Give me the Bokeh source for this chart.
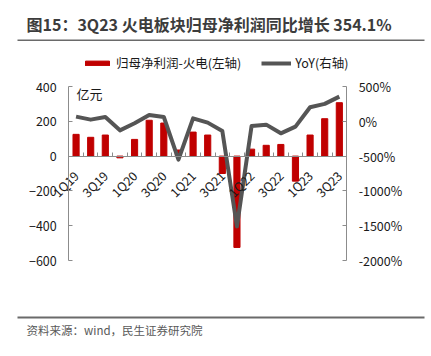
from math import pi
from bokeh.plotting import figure
from bokeh.models import (Range1d, LinearAxis, FixedTicker, PrintfTickFormatter,
                          Legend, LegendItem, Label, Title, ColumnDataSource)
from bokeh.layouts import column
from bokeh.embed import file_html
from bokeh.resources import INLINE

quarters = ["1Q19", "2Q19", "3Q19", "4Q19", "1Q20", "2Q20", "3Q20", "4Q20",
            "1Q21", "2Q21", "3Q21", "4Q21", "1Q22", "2Q22", "3Q22", "4Q22",
            "1Q23", "2Q23", "3Q23"]
profit = [125, 108, 121, -10, 96, 206, 190, 35,
          138, 121, -100, -525, 40, 62, 67, -144,
          121, 215, 307]
yoy = [67, 24, 62, -130, -29, 91, 62, -550,
       43, -19, -139, -1510, -67, -48, -173, -77,
       202, 250, 354]
left_ticks = [-600, -400, -200, 0, 200, 400]
right_ticks = [-2000, -1500, -1000, -500, 0, 500]
title_text = "图15：3Q23 火电板块归母净利润同比增长 354.1%"
source_text = "资料来源：wind，民生证券研究院"

FONT = "Noto Sans CJK SC"
AXIS_C = "#8c8c8c"
TXT_C = "#1a1a1a"
RULE_C = "#6a6a6a"
W = 431

# ---------- top strip: title + rule (the rule is the strip's frame) ----------
top = figure(width=W, height=41, output_backend="svg", toolbar_location=None,
             x_axis_type=None, y_axis_type=None,
             x_range=Range1d(0, 1), y_range=Range1d(0, 1),
             min_border_left=17, min_border_right=7, min_border_top=39,
             min_border_bottom=0, background_fill_color=RULE_C,
             outline_line_color=None)
top.grid.visible = False
top.title.text = title_text
top.title.align = "left"
top.title.offset = 9
top.title.standoff = 8
top.title.text_font = FONT
top.title.text_font_size = "16px"
top.title.text_font_style = "bold"
top.title.text_color = "#3c3c3c"

# ---------- main chart: axes placed at fixed spots inside the frame ----------
H = 274
FL = 18                            # observed left inset of the frame
FW = W - FL                        # frame width
plot_l, plot_r = 70 - FL, 352 - FL   # frame x of first / last category edge
plot_t, plot_b = 45, 219             # frame y (from top) of top / bottom tick
n = len(quarters)
left_lo, left_hi = -600, 400
right_lo, right_hi = -2000, 500

per_x = n / (plot_r - plot_l)
x_start = -0.5 - plot_l * per_x
x_end = n - 0.5 + (FW - plot_r) * per_x
per_l = (left_hi - left_lo) / (plot_b - plot_t)
yl_start = left_lo - (H - plot_b) * per_l
yl_end = left_hi + plot_t * per_l
per_r = (right_hi - right_lo) / (plot_b - plot_t)
yr_start = right_lo - (H - plot_b) * per_r
yr_end = right_hi + plot_t * per_r

idx = list(range(n))
src = ColumnDataSource(dict(x=idx, profit=profit, yoy=yoy))

p = figure(width=W, height=H, output_backend="svg", toolbar_location=None,
           x_range=Range1d(x_start, x_end), y_range=Range1d(yl_start, yl_end),
           min_border_left=0, min_border_right=0, min_border_top=0,
           min_border_bottom=0)
p.outline_line_color = None
p.xgrid.grid_line_color = None
p.ygrid.grid_line_color = None
p.extra_y_ranges = {"right": Range1d(yr_start, yr_end)}

bars = p.vbar(x="x", top="profit", width=0.42, source=src, color="#c00000")
line = p.line(x="x", y="yoy", source=src, y_range_name="right",
              line_color="#555555", line_width=4, line_join="round")

xa = p.xaxis[0]
xa.fixed_location = 0
xa.bounds = (-0.5, n - 0.5)
xa.ticker = FixedTicker(ticks=idx[::2], minor_ticks=[i - 0.5 for i in idx] + [n - 0.5])
xa.major_label_overrides = {i: quarters[i] for i in idx[::2]}
xa.major_label_orientation = pi / 4
xa.major_tick_line_color = None
xa.minor_tick_in = 4
xa.minor_tick_out = 0
xa.minor_tick_line_color = AXIS_C
xa.axis_line_color = AXIS_C
xa.major_label_text_font = FONT
xa.major_label_text_font_size = "12.5px"
xa.major_label_text_color = TXT_C
xa.major_label_standoff = 11

ya = p.yaxis[0]
ya.fixed_location = -0.5
ya.bounds = (left_lo, left_hi)
ya.ticker = FixedTicker(ticks=left_ticks)
ya.major_tick_in = 4
ya.major_tick_out = 0
ya.minor_tick_line_color = None
ya.axis_line_color = AXIS_C
ya.major_tick_line_color = AXIS_C
ya.major_label_text_font = FONT
ya.major_label_text_font_size = "12.5px"
ya.major_label_text_color = TXT_C
ya.major_label_standoff = 12

ra = LinearAxis(y_range_name="right", ticker=FixedTicker(ticks=right_ticks),
                formatter=PrintfTickFormatter(format="%d%%"))
ra.fixed_location = n - 0.5
ra.bounds = (right_lo, right_hi)
ra.major_tick_in = 4
ra.major_tick_out = 0
ra.minor_tick_line_color = None
ra.axis_line_color = AXIS_C
ra.major_tick_line_color = AXIS_C
ra.major_label_text_font = FONT
ra.major_label_text_font_size = "12.5px"
ra.major_label_text_color = TXT_C
ra.major_label_standoff = 12
p.add_layout(ra, "right")

unit = Label(x=77 - FL, y=H - 52, x_units="screen", y_units="screen", text="亿元",
             text_font=FONT, text_font_size="13px", text_color=TXT_C,
             text_baseline="middle")
p.add_layout(unit)

legend = Legend(items=[LegendItem(label="归母净利润-火电(左轴)", renderers=[bars]),
                       LegendItem(label="YoY(右轴)", renderers=[line])],
                orientation="horizontal", location=(85 - FL - 2, H - 31),
                glyph_width=30, glyph_height=6, label_standoff=4, spacing=20,
                padding=0, margin=0, border_line_color=None,
                background_fill_alpha=0,
                label_text_font=FONT, label_text_font_size="12.5px",
                label_text_color=TXT_C, label_height=16)
p.add_layout(legend, "center")

# ---------- bottom strip: rule (frame) + source ----------
bot = figure(width=W, height=41, output_backend="svg", toolbar_location=None,
             x_axis_type=None, y_axis_type=None,
             x_range=Range1d(0, 1), y_range=Range1d(0, 1),
             min_border_left=17, min_border_right=7, min_border_top=1,
             min_border_bottom=38, background_fill_color=RULE_C,
             outline_line_color=None)
bot.grid.visible = False
bot.title.visible = False
bot.add_layout(Title(text=source_text, align="left", offset=9, standoff=3,
                     text_font=FONT, text_font_size="11.5px",
                     text_font_style="normal", text_color="#595959"), "below")

layout = column(top, p, bot, spacing=0)
open("out.html", "w").write(file_html(layout, INLINE))
